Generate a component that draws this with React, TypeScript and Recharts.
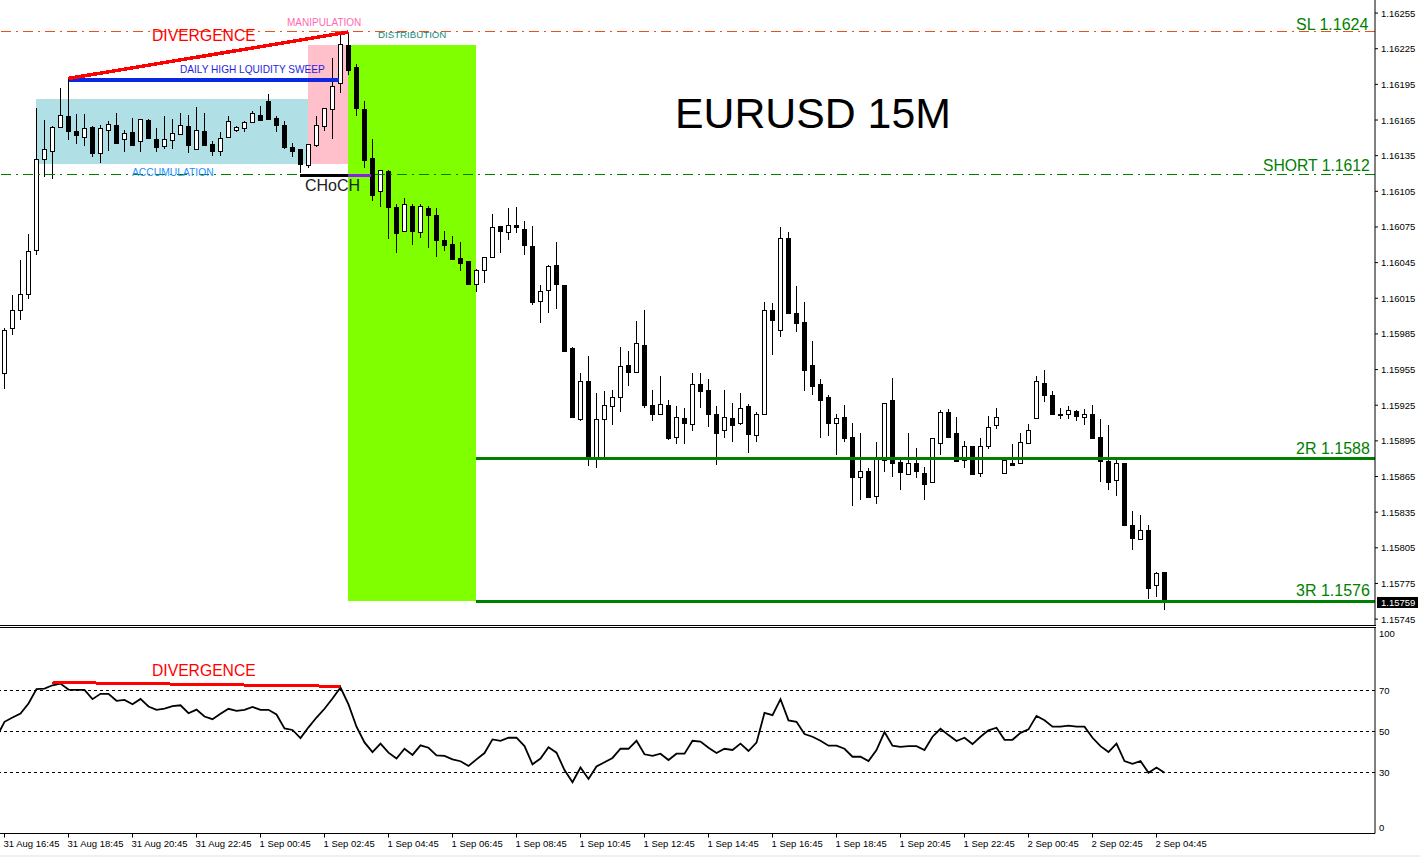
import { ComposedChart, Bar, Line, XAxis, YAxis, ReferenceArea, ReferenceLine } from "recharts";

// prices are in points: 116255 means 1.16255
const opens = [
  115952, 115990, 116005, 116019, 116056, 116132, 116139, 116159, 116168, 116156, 116151, 116159, 116137, 116157, 116161, 116149,
  116155, 116147, 116165, 116149, 116143, 116148, 116153, 116160, 116141, 116156, 116145, 116139, 116151, 116157, 116158, 116163,
  116169, 116181, 116167, 116161, 116142, 116141, 116127, 116144, 116160, 116174, 116196, 116228, 116210, 116174, 116133, 116105,
  116122, 116092, 116072, 116093, 116071, 116091, 116085, 116064, 116061, 116049, 116046, 116027, 116039, 116050, 116076, 116071,
  116077, 116073, 116059, 116013, 116022, 116043, 116026, 115973, 115913, 115945, 115881, 115913, 115924, 115932, 115959, 115953,
  115976, 115925, 115918, 115925, 115898, 115914, 115909, 115943, 115938, 115918, 115904, 115914, 115910, 115924, 115900, 115918,
  116005, 115988, 116066, 116003, 115995, 115959, 115943, 115932, 115910, 115915, 115898, 115865, 115870, 115849, 115879, 115929,
  115877, 115867, 115876, 115868, 115860, 115893, 115919, 115902, 115879, 115891, 115868, 115891, 115908, 115868, 115876, 115876,
  115893, 115914, 115944, 115934, 115918, 115918, 115920, 115915, 115918, 115898, 115878, 115862, 115876, 115824, 115812, 115820,
  115774, 115785,
];
const highs = [
  115990, 116018, 116047, 116069, 116175, 116165, 116160, 116192, 116200, 116170, 116170, 116160, 116161, 116164, 116171, 116157,
  116167, 116166, 116166, 116158, 116168, 116166, 116171, 116169, 116176, 116171, 116147, 116155, 116168, 116160, 116164, 116173,
  116177, 116187, 116168, 116164, 116146, 116141, 116145, 116168, 116175, 116217, 116238, 116239, 116212, 116181, 116149, 116123,
  116123, 116094, 116099, 116094, 116094, 116093, 116091, 116072, 116067, 116062, 116046, 116040, 116050, 116086, 116076, 116091,
  116092, 116080, 116076, 116026, 116043, 116062, 116026, 115974, 115952, 115966, 115935, 115937, 115938, 115974, 115971, 115996,
  116005, 115938, 115950, 115929, 115924, 115923, 115952, 115952, 115947, 115924, 115938, 115927, 115935, 115926, 115919, 116012,
  116011, 116075, 116071, 116025, 116012, 115979, 115947, 115934, 115918, 115925, 115910, 115902, 115872, 115894, 115927, 115948,
  115879, 115902, 115889, 115873, 115897, 115921, 115922, 115915, 115895, 115891, 115897, 115916, 115923, 115879, 115892, 115902,
  115909, 115950, 115955, 115937, 115923, 115924, 115921, 115922, 115925, 115913, 115908, 115879, 115876, 115836, 115833, 115824,
  115785, 115785,
];
const lows = [
  115939, 115984, 115997, 116014, 116051, 116117, 116115, 116158, 116148, 116145, 116143, 116134, 116129, 116139, 116146, 116138,
  116144, 116138, 116150, 116138, 116141, 116141, 116153, 116137, 116140, 116144, 116135, 116135, 116151, 116155, 116155, 116163,
  116165, 116166, 116155, 116141, 116134, 116120, 116125, 116142, 116156, 116149, 116188, 116203, 116168, 116125, 116097, 116092,
  116065, 116053, 116071, 116060, 116066, 116057, 116050, 116055, 116047, 116038, 116027, 116020, 116028, 116050, 116053, 116064,
  116070, 116051, 116009, 115994, 116003, 116006, 115971, 115915, 115912, 115874, 115872, 115879, 115908, 115919, 115941, 115952,
  115923, 115912, 115917, 115896, 115892, 115892, 115903, 115923, 115907, 115875, 115897, 115894, 115908, 115885, 115894, 115918,
  115967, 115982, 116003, 115987, 115937, 115934, 115897, 115899, 115883, 115894, 115840, 115845, 115848, 115842, 115869, 115865,
  115854, 115866, 115864, 115845, 115860, 115883, 115897, 115878, 115872, 115867, 115865, 115888, 115905, 115868, 115875, 115876,
  115893, 115914, 115928, 115918, 115913, 115913, 115912, 115908, 115897, 115860, 115854, 115849, 115824, 115803, 115812, 115762,
  115764, 115753,
];
const closes = [
  115988, 116005, 116019, 116055, 116132, 116141, 116159, 116169, 116156, 116152, 116158, 116137, 116158, 116162, 116146, 116154,
  116144, 116166, 116150, 116142, 116149, 116154, 116161, 116144, 116157, 116144, 116139, 116150, 116164, 116159, 116163, 116171,
  116165, 116166, 116161, 116142, 116139, 116128, 116145, 116161, 116175, 116194, 116229, 116207, 116175, 116131, 116102, 116123,
  116092, 116070, 116094, 116072, 116093, 116085, 116064, 116060, 116048, 116045, 116027, 116039, 116050, 116075, 116072, 116077,
  116075, 116060, 116012, 116021, 116042, 116027, 115971, 115915, 115945, 115881, 115913, 115925, 115932, 115958, 115953, 115977,
  115925, 115918, 115926, 115897, 115915, 115910, 115943, 115937, 115918, 115902, 115915, 115908, 115923, 115901, 115918, 116005,
  115997, 116066, 116003, 115994, 115955, 115941, 115929, 115910, 115914, 115897, 115865, 115870, 115848, 115881, 115927, 115876,
  115869, 115876, 115870, 115859, 115897, 115919, 115898, 115878, 115891, 115867, 115891, 115907, 115915, 115879, 115875, 115894,
  115904, 115945, 115934, 115918, 115917, 115921, 115916, 115918, 115897, 115878, 115860, 115876, 115824, 115813, 115820, 115771,
  115784, 115759,
];
// first value belongs to the bar just left of the window
const rsiValues = [
  47.2, 54.7, 56.8, 58.8, 63.7, 70.7, 71.0, 72.6, 73.4, 70.5, 70.3, 70.3, 65.8, 68.4, 68.4, 65.0, 65.4, 63.3, 65.9, 62.2,
  60.6, 61.2, 62.4, 62.8, 58.9, 60.7, 57.3, 56.0, 58.6, 61.1, 60.1, 60.6, 62.0, 60.6, 60.6, 58.3, 51.5, 50.7, 46.7, 52.0,
  56.8, 61.1, 66.1, 71.5, 63.2, 52.3, 44.6, 39.9, 44.0, 39.6, 36.7, 41.5, 38.5, 43.2, 42.0, 38.3, 38.0, 36.3, 35.4, 33.1,
  36.3, 39.4, 46.1, 45.4, 46.9, 46.9, 42.8, 33.9, 36.7, 42.2, 39.6, 31.1, 25.1, 32.3, 26.7, 32.8, 34.9, 37.0, 41.5, 41.5,
  45.4, 38.8, 38.0, 39.1, 36.0, 39.1, 39.1, 45.4, 45.0, 42.0, 39.4, 41.5, 40.9, 44.0, 40.4, 44.5, 59.1, 58.0, 65.8, 55.4,
  54.7, 48.7, 47.4, 45.4, 43.0, 43.0, 41.5, 37.6, 37.6, 35.5, 40.9, 49.7, 43.0, 42.4, 42.8, 42.8, 40.9, 47.4, 51.3, 48.2,
  45.3, 46.9, 43.8, 47.4, 50.5, 51.8, 45.9, 45.9, 49.3, 51.0, 57.6, 55.5, 52.3, 52.3, 52.8, 52.3, 52.3, 46.9, 42.8, 39.9,
  44.0, 35.5, 34.1, 35.5, 29.7, 32.3, 29.8,
];
const priceTicks = [
  116255, 116225, 116195, 116165, 116135, 116105, 116075, 116045, 116015, 115985, 115955, 115925, 115895, 115865, 115835, 115805,
  115775, 115745,
];
const rsiTicks = [0, 30, 50, 70, 100];
const timeTicks = [0, 8, 16, 24, 32, 40, 48, 56, 64, 72, 80, 88, 96, 104, 112, 120, 128, 136, 144];
const timeLabels = [
  "31 Aug 16:45", "31 Aug 18:45", "31 Aug 20:45", "31 Aug 22:45", "1 Sep 00:45", "1 Sep 02:45", "1 Sep 04:45", "1 Sep 06:45",
  "1 Sep 08:45", "1 Sep 10:45", "1 Sep 12:45", "1 Sep 14:45", "1 Sep 16:45", "1 Sep 18:45", "1 Sep 20:45", "1 Sep 22:45",
  "2 Sep 00:45", "2 Sep 02:45", "2 Sep 04:45",
];

const lastPrice = 115759;
const slLevel = 116239.5;
const shortLevel = 116119;
const r2Level = 115880;
const r3Level = 115760;

const candles = opens.map((open, i) => ({ i, open, high: highs[i], low: lows[i], close: closes[i] }));
const rsiData = rsiValues.map((rsi, i) => ({ i: i - 1, rsi }));

const AXIS_X = 1375;
const FONT = '"Liberation Sans", Arial, sans-serif';
const X_DOMAIN = [-0.5625, 171.3125];
const DASH_DOT = "10 5 2 5";
const GREEN = "#008000";

function Candle(props: any) {
  const { x, y, width, height, payload } = props;
  const { open, high, low, close } = payload;
  const cx = Math.floor(x + width / 2) + 0.5;
  const py = (v: number) => y + ((high - v) / (high - low)) * height;
  const top = Math.round(py(Math.max(open, close))) + 0.5;
  const bottom = Math.round(py(Math.min(open, close))) + 0.5;
  return (
    <g shapeRendering="crispEdges">
      <line x1={cx} x2={cx} y1={y} y2={y + height} stroke="#000" strokeWidth={1} />
      <rect x={cx - 2} y={top} width={4} height={Math.max(bottom - top, 1)} fill={close >= open ? "#fff" : "#000"} stroke="#000" strokeWidth={1} />
    </g>
  );
}

function PriceTick(props: any) {
  const { y, payload } = props;
  const label = (payload.value / 100000).toFixed(5);
  if (payload.value === lastPrice) {
    return (
      <g>
        <rect x={AXIS_X + 2} y={y - 5.5} width={41} height={11} fill="#000" />
        <text x={AXIS_X + 6} y={y + 3.5} fontSize={9.5} fontFamily={FONT} fill="#fff">{label}</text>
      </g>
    );
  }
  return (
    <g>
      <line x1={AXIS_X} x2={AXIS_X + 3} y1={y} y2={y} stroke="#000" />
      <text x={AXIS_X + 6} y={y + 3.5} fontSize={9.5} fontFamily={FONT} fill="#000">{label}</text>
    </g>
  );
}

function RsiTick(props: any) {
  const { y, payload } = props;
  // MT4 pulls the end labels inside the pane
  const shift = payload.value === 100 ? 4.5 : payload.value === 0 ? -6 : 0;
  return (
    <text x={AXIS_X + 4} y={y + shift + 3.5} fontSize={9.5} fontFamily={FONT} fill="#000">{payload.value}</text>
  );
}

function TimeTick(props: any) {
  const { x, y, payload, index } = props;
  return (
    <text x={x - 1} y={y + 7} fontSize={9.5} fontFamily={FONT} fill="#000">{timeLabels[index] ?? payload.value}</text>
  );
}

function Note({ left, y, size, color, children }: any) {
  return (
    <div style={{ position: "absolute", left, top: y, transform: "translateY(-50%)", fontSize: size, color, whiteSpace: "nowrap", lineHeight: 1 }}>
      {children}
    </div>
  );
}

export default function App() {
  return (
    <div style={{ position: "absolute", left: 0, top: 0, width: 1420, height: 857, background: "#fff", overflow: "hidden", fontFamily: FONT }}>
      <div style={{ position: "absolute", left: 0, top: 0 }}>
        <ComposedChart width={1420} height={626} data={candles} margin={{ top: 0, right: 0, bottom: 0, left: 0 }}>
          <XAxis type="number" dataKey="i" domain={X_DOMAIN} allowDataOverflow height={0} tick={false} tickLine={false} axisLine={false} />
          <YAxis
            orientation="right"
            type="number"
            width={45}
            domain={[115739.2, 116266]}
            allowDataOverflow
            ticks={[...priceTicks, lastPrice]}
            interval={0}
            tick={(p: any) => <PriceTick {...p} />}
            tickLine={false}
            axisLine={{ stroke: "#000" }}
          />
          <ReferenceArea x1={3.94} x2={37.94} y1={116128} y2={116183} fill="#B0E0E6" fillOpacity={1} stroke="none" shapeRendering="crispEdges" />
          <ReferenceArea x1={37.94} x2={42.94} y1={116128} y2={116228} fill="#FFC0CB" fillOpacity={1} stroke="none" shapeRendering="crispEdges" />
          <ReferenceArea x1={42.94} x2={58.94} y1={115760} y2={116228} fill="#7FFF00" fillOpacity={1} stroke="none" shapeRendering="crispEdges" />
          <ReferenceLine y={slLevel} stroke="#E8501E" strokeDasharray={DASH_DOT} shapeRendering="crispEdges" />
          <ReferenceLine y={shortLevel} stroke={GREEN} strokeDasharray={DASH_DOT} shapeRendering="crispEdges" />
          <Bar dataKey={(d: any) => [d.low, d.high]} barSize={5} shape={(p: any) => <Candle {...p} />} isAnimationActive={false} />
          <ReferenceLine segment={[{ x: 58.94, y: r2Level }, { x: 171.3125, y: r2Level }]} stroke={GREEN} strokeWidth={3} shapeRendering="crispEdges" />
          <ReferenceLine segment={[{ x: 58.94, y: r3Level }, { x: 171.3125, y: r3Level }]} stroke={GREEN} strokeWidth={3} shapeRendering="crispEdges" />
          <ReferenceLine segment={[{ x: 8, y: 116199 }, { x: 41.8, y: 116199 }]} stroke="#0A28E0" strokeWidth={4} shapeRendering="crispEdges" />
          <ReferenceLine segment={[{ x: 8, y: 116200 }, { x: 43, y: 116239 }]} stroke="#FF0000" strokeWidth={3.5} shapeRendering="crispEdges" />
          <ReferenceLine segment={[{ x: 36.9, y: 116118 }, { x: 42.94, y: 116118 }]} stroke="#000" strokeWidth={3} shapeRendering="crispEdges" />
          <ReferenceLine segment={[{ x: 42.94, y: 116118 }, { x: 45.8, y: 116118 }]} stroke="#8A1EF0" strokeWidth={3} shapeRendering="crispEdges" />
        </ComposedChart>
      </div>

      <div style={{ position: "absolute", left: 0, top: 625, width: 1376, height: 1, background: "#000" }} />
      <div style={{ position: "absolute", left: 0, top: 627, width: 1376, height: 1, background: "#000" }} />
      <div style={{ position: "absolute", left: 0, top: 627 }}>
        <ComposedChart width={1420} height={228} data={rsiData} margin={{ top: 0.5, right: 0, bottom: 0, left: 0 }}>
          <XAxis
            type="number"
            dataKey="i"
            domain={X_DOMAIN}
            allowDataOverflow
            height={21.5}
            ticks={timeTicks}
            interval={0}
            tick={(p: any) => <TimeTick {...p} />}
            tickSize={4}
            tickLine={{ stroke: "#000" }}
            axisLine={{ stroke: "#000" }}
          />
          <YAxis
            orientation="right"
            type="number"
            width={45}
            domain={[0, 100.9]}
            allowDataOverflow
            ticks={rsiTicks}
            interval={0}
            tick={(p: any) => <RsiTick {...p} />}
            tickLine={false}
            axisLine={{ stroke: "#000" }}
          />
          <ReferenceLine y={70} stroke="#000" strokeDasharray="3 3" shapeRendering="crispEdges" />
          <ReferenceLine y={50} stroke="#000" strokeDasharray="3 3" shapeRendering="crispEdges" />
          <ReferenceLine y={30} stroke="#000" strokeDasharray="3 3" shapeRendering="crispEdges" />
          <Line dataKey="rsi" type="linear" stroke="#000" strokeWidth={1.8} dot={false} isAnimationActive={false} />
          <ReferenceLine segment={[{ x: 6, y: 74 }, { x: 42, y: 72.1 }]} stroke="#FF0000" strokeWidth={3} shapeRendering="crispEdges" />
        </ComposedChart>
      </div>

      <Note left={152} y={36} size={15.7} color="#FF0000">DIVERGENCE</Note>
      <Note left={287} y={23} size={10} color="#FF69B4">MANIPULATION</Note>
      <Note left={378} y={35} size={9.7} color="#20897A">DISTRIBUTION</Note>
      <Note left={180} y={70} size={10.1} color="#1E1EE0">DAILY HIGH LQUIDITY SWEEP</Note>
      <Note left={132} y={173} size={10.3} color="#1E90FF">ACCUMULATION</Note>
      <Note left={305} y={186} size={16} color="#222">CHoCH</Note>
      <Note left={675} y={113} size={42.8} color="#000">EURUSD 15M</Note>
      <Note left={1296} y={25} size={16} color={GREEN}>SL 1.1624</Note>
      <Note left={1263} y={166} size={15.7} color={GREEN}>SHORT 1.1612</Note>
      <Note left={1296} y={449} size={16} color={GREEN}>2R 1.1588</Note>
      <Note left={1296} y={591} size={16} color={GREEN}>3R 1.1576</Note>
      <Note left={152} y={671} size={15.7} color="#FF0000">DIVERGENCE</Note>

      <div style={{ position: "absolute", left: 0, top: 855, width: 1420, height: 2, background: "#F0F0F0" }} />
    </div>
  );
}
